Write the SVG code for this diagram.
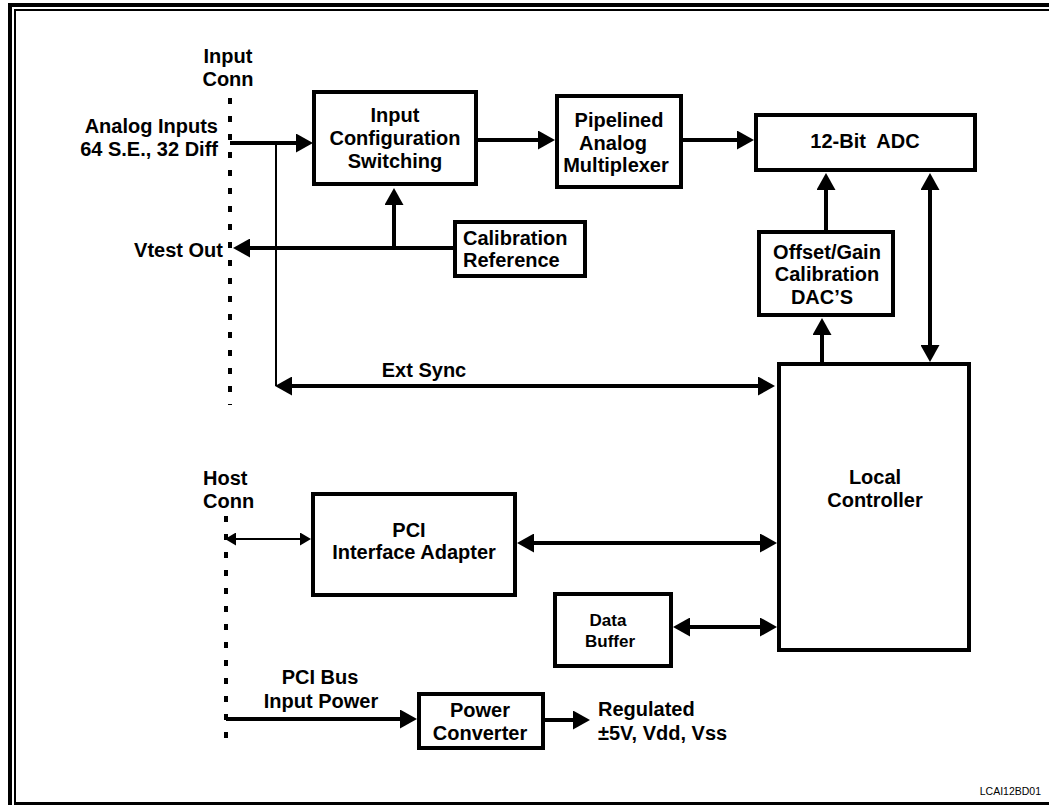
<svg xmlns="http://www.w3.org/2000/svg" width="1049" height="805" viewBox="0 0 1049 805">
<style>
text{font-family:"Liberation Sans",Arial,sans-serif;font-weight:bold;font-size:20px;fill:#000}
.c{text-anchor:middle}
.e{text-anchor:end}
.sm{font-size:17px}
.tag{font-weight:normal;font-size:10.5px;text-anchor:end}
.box{fill:#fff;stroke:#000;stroke-width:4}
.h{fill:none;stroke:#000;stroke-width:4}
.t{fill:none;stroke:#000;stroke-width:2}
.d{fill:none;stroke:#000;stroke-width:4;stroke-dasharray:6 12}
</style>
<defs>
<marker id="ah" markerUnits="userSpaceOnUse" markerWidth="17" markerHeight="19" refX="9" refY="9.5" orient="auto-start-reverse" viewBox="0 0 17 19"><path d="M0,0 L17,9.5 L0,19 z" fill="#000"/></marker>
<marker id="at" markerUnits="userSpaceOnUse" markerWidth="11" markerHeight="13" refX="5" refY="6.5" orient="auto-start-reverse" viewBox="0 0 11 13"><path d="M0,0 L11,6.5 L0,13 z" fill="#000"/></marker>
</defs>
<rect width="1049" height="805" fill="#fff"/>
<g id="frame" fill="none" stroke="#000">
<path d="M10,805 V5 H1049" stroke-width="4"/>
<path d="M15,805 V10 H1049" stroke-width="2"/>
<path d="M14,803.5 H1049" stroke-width="3"/>
</g>
<g id="input-conn">
<path class="d" d="M230,98 V405"/>
<text class="c" x="228" y="63">Input</text>
<text class="c" x="228" y="86">Conn</text>
<text class="e" x="218" y="133">Analog Inputs</text>
<text class="e" x="218" y="156">64 S.E., 32 Diff</text>
<text class="e" x="223" y="257">Vtest Out</text>
</g>
<g id="host-conn">
<path class="d" d="M226,516 V748"/>
<text x="203" y="485">Host</text>
<text x="203" y="508">Conn</text>
<text class="c" x="320" y="684">PCI Bus</text>
<text class="c" x="321" y="708">Input Power</text>
</g>
<g id="input-config">
<rect class="box" x="314" y="92" width="162" height="92"/>
<text class="c" x="395" y="122">Input</text>
<text class="c" x="395" y="145">Configuration</text>
<text class="c" x="395" y="168">Switching</text>
</g>
<g id="pipelined-mux">
<rect class="box" x="557" y="96" width="124" height="91"/>
<text class="c" x="619" y="127">Pipelined</text>
<text class="c" x="613" y="150">Analog</text>
<text class="c" x="616" y="172">Multiplexer</text>
</g>
<g id="adc">
<rect class="box" x="756" y="115" width="219" height="55"/>
<text class="c" x="865" y="148" xml:space="preserve">12-Bit  ADC</text>
</g>
<g id="cal-ref">
<rect class="box" x="455" y="222" width="130" height="54"/>
<text x="463" y="245">Calibration</text>
<text x="463" y="267">Reference</text>
</g>
<g id="offset-gain">
<rect class="box" x="759" y="232" width="134" height="83"/>
<text class="c" x="827" y="259">Offset/Gain</text>
<text class="c" x="827" y="281">Calibration</text>
<text class="c" x="822" y="304">DAC’S</text>
</g>
<g id="local-controller">
<rect class="box" x="779" y="364" width="190" height="286"/>
<text class="c" x="875" y="484">Local</text>
<text class="c" x="875" y="507">Controller</text>
</g>
<g id="pci-adapter">
<rect class="box" x="313" y="494" width="202" height="101"/>
<text class="c" x="409" y="537">PCI</text>
<text class="c" x="414" y="559">Interface Adapter</text>
</g>
<g id="data-buffer">
<rect class="box" x="555" y="594" width="116" height="72"/>
<text class="c sm" x="608" y="626">Data</text>
<text class="c sm" x="610" y="647">Buffer</text>
</g>
<g id="power-converter">
<rect class="box" x="419" y="694" width="124" height="54"/>
<text class="c" x="480" y="717">Power</text>
<text class="c" x="480" y="740">Converter</text>
<text x="598" y="716">Regulated</text>
<text x="598" y="740">±5V, Vdd, Vss</text>
</g>
<g id="connectors">
<path class="h" d="M230,143 H305" marker-end="url(#ah)"/>
<path class="h" d="M478,140 H547" marker-end="url(#ah)"/>
<path class="h" d="M683,140 H746" marker-end="url(#ah)"/>
<path class="h" d="M453,248 H241" marker-end="url(#ah)"/>
<path class="h" d="M394,248 V196" marker-end="url(#ah)"/>
<path class="h" d="M826,230 V181" marker-end="url(#ah)"/>
<path class="h" d="M822,362 V326" marker-end="url(#ah)"/>
<path class="h" d="M930,181 V354" marker-start="url(#ah)" marker-end="url(#ah)"/>
<path class="t" d="M276,143 V386"/>
<path class="h" d="M283,386 H767" marker-start="url(#ah)" marker-end="url(#ah)"/>
<text class="c" x="424" y="377">Ext Sync</text>
<path class="t" d="M231,539 H305" marker-start="url(#at)" marker-end="url(#at)"/>
<path class="h" d="M525,543 H769" marker-start="url(#ah)" marker-end="url(#ah)"/>
<path class="h" d="M681,627 H769" marker-start="url(#ah)" marker-end="url(#ah)"/>
<path class="h" d="M226,719 H409" marker-end="url(#ah)"/>
<path class="h" d="M545,720 H582" marker-end="url(#ah)"/>
</g>
<text class="tag" x="1041" y="795">LCAI12BD01</text>
</svg>
